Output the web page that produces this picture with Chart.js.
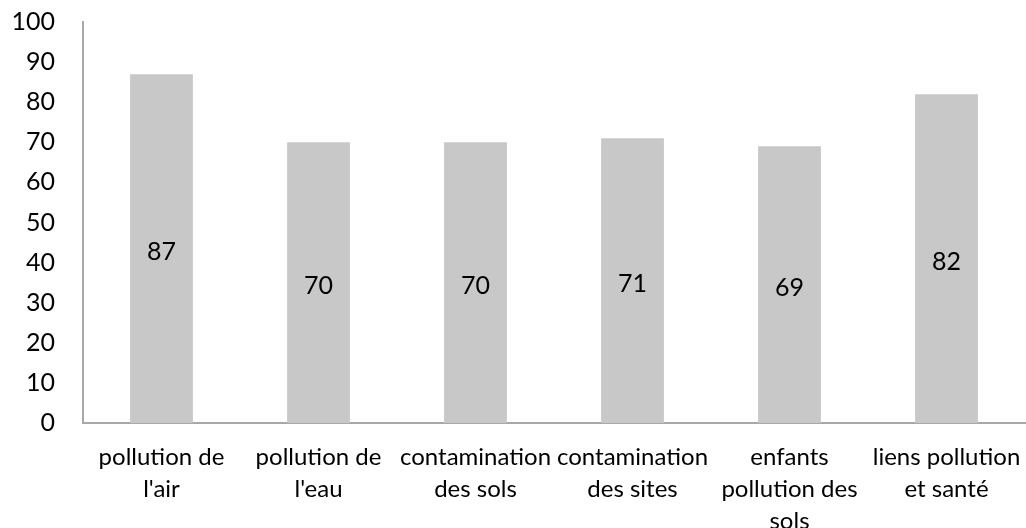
<!DOCTYPE html>
<html>
<head>
<meta charset="utf-8">
<script src="https://cdn.jsdelivr.net/npm/chart.js@4/dist/chart.umd.min.js"></script>
<style>
  html, body { margin: 0; padding: 0; background: #fff; }
  #wrap { width: 1026px; height: 528px; }
</style>
</head>
<body>
<div id="wrap"><canvas id="chart"></canvas></div>
<script>
// categories (multi-line as in the picture)
let categories = [
    ['pollution de', "l'air"],
    ['pollution de', "l'eau"],
    ['contamination', 'des sols'],
    ['contamination', 'des sites'],
    ['enfants', 'pollution des', 'sols'],
    ['liens pollution', 'et santé']
];
let values = [87, 70, 70, 71, 69, 82];
let yTicks = [0, 10, 20, 30, 40, 50, 60, 70, 80, 90, 100];

let fontFamily = 'Lato, "Open Sans", sans-serif';

// draw the value in the middle of each bar
let midLabels = {
    id: 'midLabels',
    afterDatasetsDraw: function (chart) {
        let ctx = chart.ctx;
        let meta = chart.getDatasetMeta(0);
        ctx.save();
        ctx.font = '25px ' + fontFamily;
        ctx.fillStyle = '#000';
        ctx.textAlign = 'center';
        ctx.textBaseline = 'middle';
        meta.data.forEach(function (bar, i) {
            let y = (bar.y + bar.base) / 2 + 3;
            ctx.fillText(String(values[i]), bar.x, y);
        });
        ctx.restore();
    }
};

let ctx = document.getElementById('chart');
let myChart = new Chart(ctx, {
    type: 'bar',
    data: {
        labels: categories,
        datasets: [{
            data: values,
            backgroundColor: '#c8c8c8',
            borderWidth: 0,
            barPercentage: 0.4,
            categoryPercentage: 1.0
        }]
    },
    options: {
        responsive: true,
        maintainAspectRatio: false,
        animation: false,
        layout: { padding: { left: 12, top: 22, right: 1, bottom: 0 } },
        plugins: {
            legend: { display: false },
            tooltip: { enabled: false }
        },
        scales: {
            y: {
                min: 0,
                max: 100,
                afterBuildTicks: function (scale) {
                    scale.ticks = yTicks.map(function (v) { return { value: v }; });
                },
                afterFit: function (scale) {
                    scale.width = 71;
                    scale.paddingTop = 0;
                    scale.paddingBottom = 0;
                },
                grid: { display: false, drawTicks: false },
                border: { display: true, color: '#a8a8a8', width: 2 },
                ticks: {
                    color: '#000',
                    padding: 28,
                    font: { family: fontFamily, size: 25 }
                }
            },
            x: {
                grid: { display: false, drawTicks: false },
                border: { display: true, color: '#a8a8a8', width: 2 },
                afterFit: function (scale) {
                    scale.height = 105;
                    scale.paddingLeft = 0;
                    scale.paddingRight = 0;
                    scale.paddingTop = 0;
                    scale.paddingBottom = 0;
                },
                ticks: {
                    color: '#000',
                    padding: 18,
                    maxRotation: 0,
                    autoSkip: false,
                    font: { family: fontFamily, size: 24, lineHeight: 1.33 }
                }
            }
        }
    },
    plugins: [midLabels]
});
</script>
</body>
</html>
